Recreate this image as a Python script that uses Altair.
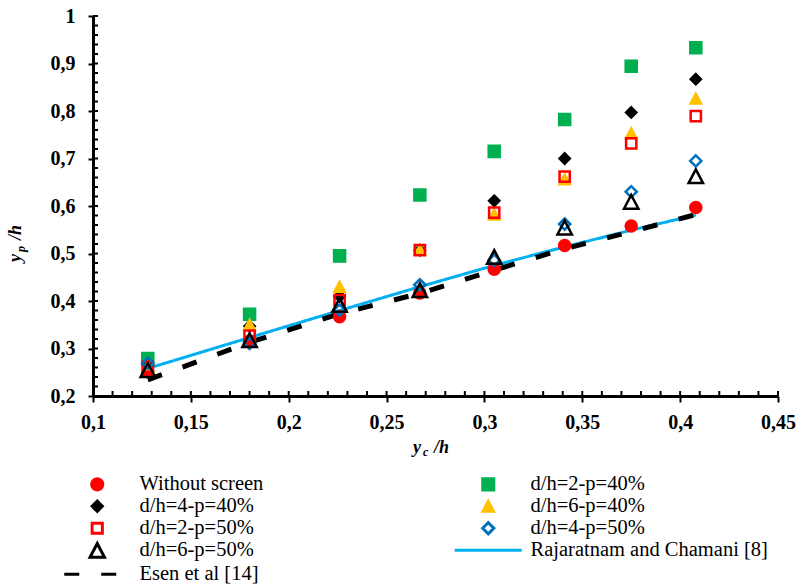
import altair as alt
import pandas as pd

# ---- data ----
x_vals = [0.128, 0.180, 0.226, 0.267, 0.305, 0.341, 0.375, 0.408]

without_screen = [0.251, 0.315, 0.367, 0.417, 0.467, 0.517, 0.558, 0.597]
dh2_p40 = [0.279, 0.372, 0.495, 0.623, 0.715, 0.782, 0.894, 0.933]
dh4_p40 = [0.265, 0.347, 0.410, 0.507, 0.611, 0.700, 0.797, 0.867]
dh6_p40 = [0.262, 0.350, 0.430, 0.508, 0.582, 0.656, 0.753, 0.826]
dh2_p50 = [0.262, 0.327, 0.402, 0.507, 0.586, 0.662, 0.732, 0.789]
dh4_p50 = [0.269, 0.311, 0.381, 0.434, 0.486, 0.562, 0.630, 0.695]
dh6_p50 = [0.255, 0.318, 0.392, 0.423, 0.493, 0.555, 0.609, 0.663]
rajaratnam = [0.258, 0.323, 0.380, 0.430, 0.475, 0.514, 0.549, 0.581]
esen = [0.234, 0.313, 0.373, 0.416, 0.465, 0.510, 0.546, 0.582]

series_names = ["Without screen", "d/h=2-p=40%", "d/h=4-p=40%", "d/h=6-p=40%",
                "d/h=2-p=50%", "d/h=4-p=50%", "d/h=6-p=50%",
                "Rajaratnam and Chamani [8]", "Esen et al [14]"]
point_series = [without_screen, dh2_p40, dh4_p40, dh6_p40, dh2_p50, dh4_p50, dh6_p50]
line_series = [rajaratnam, esen]

stroke_colors = ["#FF0000", "#00B050", "#000000", "#FFC000", "#FF0000",
                 "#0070C0", "#000000", "#00B0F0", "#000000"]
fill_colors = ["#FF0000", "#00B050", "#000000", "#FFC000", "transparent",
               "transparent", "transparent", "transparent", "transparent"]
shapes = [
    "M0.69,0A0.69,0.69,0,1,1,-0.69,0A0.69,0.69,0,1,1,0.69,0Z",
    "M-0.69,-0.69H0.69V0.69H-0.69Z",
    "M0,-0.64L0.64,0L0,0.64L-0.64,0Z",
    "M0,-0.6L0.65,0.62L-0.65,0.62Z",
    "M-0.64,-0.64H0.64V0.64H-0.64Z",
    "M0,-0.7L0.7,0L0,0.7L-0.7,0Z",
    "M0,-0.84L0.9,0.875L-0.9,0.875Z",
    "M-4.19,0H4.19",
    "M-4.125,0H2.625",
]
dashes = [[1, 0]] * 8 + [[15, 22]]

# legend is filled column by column: left column first, then right column
legend_order = [0, 2, 4, 6, 8, 1, 3, 5, 7]

x_ticks = [0.1, 0.15, 0.2, 0.25, 0.3, 0.35, 0.4, 0.45]
y_ticks = [0.2, 0.3, 0.4, 0.5, 0.6, 0.7, 0.8, 0.9, 1.0]
x_minor = [round(0.10 + 0.01 * i, 2) for i in range(36)]
y_minor = [round(0.20 + 0.02 * i, 2) for i in range(41)]

# ---- tables ----
rows = []
for k, vals in enumerate(point_series):
    for xv, yv in zip(x_vals, vals):
        rows.append({"x": xv, "y": yv, "series": series_names[k], "ord": k})
pts = pd.DataFrame(rows)

lrows = []
for k, vals in enumerate(line_series):
    for xv, yv in zip(x_vals, vals):
        lrows.append({"x": xv, "y": yv, "series": series_names[7 + k]})
lns = pd.DataFrame(lrows)

dom = [series_names[i] for i in legend_order]
rng_stroke = [stroke_colors[i] for i in legend_order]
rng_fill = [fill_colors[i] for i in legend_order]
rng_shape = [shapes[i] for i in legend_order]
rng_dash = [dashes[i] for i in legend_order]

W, H = 685, 380
FONT = "Liberation Serif"

xs = alt.Scale(domain=[0.1, 0.45], nice=False, zero=False)
ys = alt.Scale(domain=[0.2, 1.0], nice=False, zero=False)

legend = alt.Legend(
    orient="none", legendX=-6, legendY=458, columns=2, columnPadding=184,
    rowPadding=-5, labelFont=FONT, labelFontSize=20.5, labelColor="black", labelLimit=400,
    labelOffset=32, symbolSize=256, symbolStrokeWidth=3, title=None, padding=0,
)

color_enc = alt.Color("series:N", scale=alt.Scale(domain=dom, range=rng_stroke), legend=legend)
fill_enc = alt.Fill("series:N", scale=alt.Scale(domain=dom, range=rng_fill), legend=legend)
shape_enc = alt.Shape("series:N", scale=alt.Scale(domain=dom, range=rng_shape), legend=legend)
dash_enc = alt.StrokeDash("series:N", scale=alt.Scale(domain=dom, range=rng_dash), legend=legend)

x_axis = alt.Axis(values=x_ticks, labelExpr="replace(format(datum.value, '.2~f'), '.', ',')",
                  title=None, grid=False, domainColor="black", domainWidth=3, tickColor="black",
                  tickWidth=2, tickSize=6, labelPadding=10, labelFont=FONT, labelFontSize=20,
                  labelFontWeight="bold", labelColor="black", labelFlush=False)
y_axis = alt.Axis(values=y_ticks, labelExpr="replace(format(datum.value, '.1~f'), '.', ',')",
                  title=None, grid=False, domainColor="black", domainWidth=3, tickColor="black",
                  tickWidth=2, tickSize=5, labelPadding=13, labelFont=FONT, labelFontSize=20,
                  labelFontWeight="bold", labelColor="black", labelFlush=False)

lines = alt.Chart(lns).mark_line(strokeCap="butt").encode(
    x=alt.X("x:Q", scale=xs, axis=x_axis),
    y=alt.Y("y:Q", scale=ys, axis=y_axis),
    color=color_enc,
    strokeDash=dash_enc,
    strokeWidth=alt.condition("datum.series == 'Esen et al [14]'", alt.value(5), alt.value(3)),
)

points = alt.Chart(pts).mark_point(filled=False, size=256, strokeWidth=2.5, opacity=1).encode(
    x=alt.X("x:Q", scale=xs),
    y=alt.Y("y:Q", scale=ys),
    color=color_enc,
    fill=fill_enc,
    shape=shape_enc,
    order=alt.Order("ord:Q"),
)

xminor = alt.Chart(pd.DataFrame({"v": x_minor})).mark_rule(color="black", strokeWidth=2).encode(
    x=alt.X("v:Q", scale=xs), y=alt.value(H), y2=alt.value(H - 5))
yminor = alt.Chart(pd.DataFrame({"v": y_minor})).mark_rule(color="black", strokeWidth=2).encode(
    y=alt.Y("v:Q", scale=ys), x=alt.value(0), x2=alt.value(5))

tstyle = dict(font=FONT, fontWeight="bold", fontStyle="italic", color="black", align="left", baseline="alphabetic")
xt1 = alt.Chart().mark_text(text="y", fontSize=18, **tstyle).encode(x=alt.value(320), y=alt.value(437))
xt2 = alt.Chart().mark_text(text="c", fontSize=12, **tstyle).encode(x=alt.value(330), y=alt.value(440))
xt3 = alt.Chart().mark_text(text="/h", fontSize=18, **tstyle).encode(x=alt.value(341), y=alt.value(437))
yt1 = alt.Chart().mark_text(text="y", fontSize=18, angle=270, **tstyle).encode(x=alt.value(-72), y=alt.value(246))
yt2 = alt.Chart().mark_text(text="p", fontSize=12, angle=270, **tstyle).encode(x=alt.value(-68), y=alt.value(236))
yt3 = alt.Chart().mark_text(text="/h", fontSize=18, angle=270, **tstyle).encode(x=alt.value(-72), y=alt.value(224))

chart = alt.layer(lines, points, xminor, yminor, xt1, xt2, xt3, yt1, yt2, yt3).properties(
    width=W, height=H,
    autosize=alt.AutoSizeParams(type="none"),
    padding={"left": 93, "top": 16, "right": 20, "bottom": 189},
    background="white",
).configure_view(stroke=None)

chart.save("out.html", embed_options={"renderer": "svg", "actions": False})
